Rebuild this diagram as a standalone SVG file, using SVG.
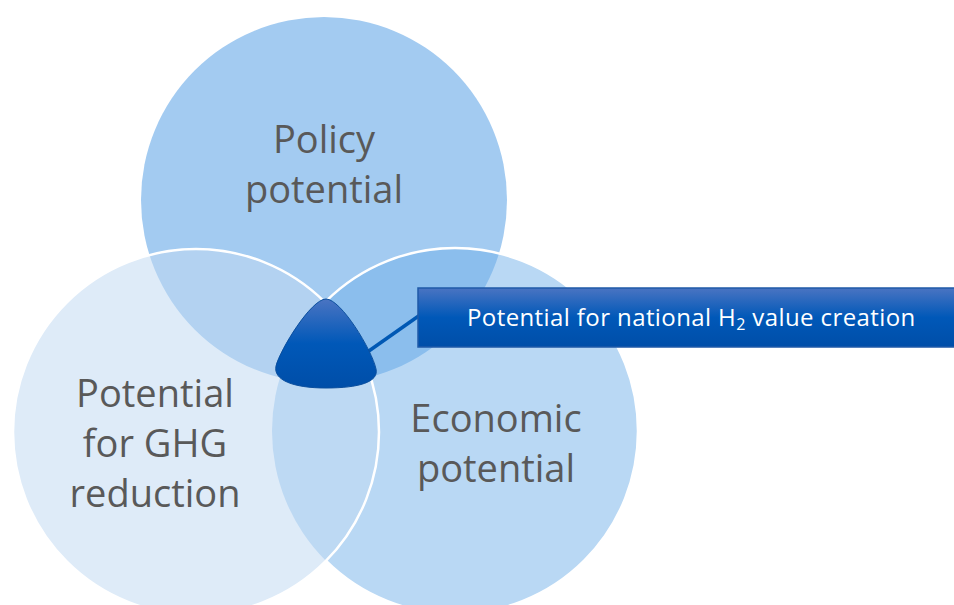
<svg xmlns="http://www.w3.org/2000/svg" width="954" height="605" viewBox="0 0 954 605">
  <defs>
    <style>
      .label { font-family: "Open Sans", "Noto Sans", "Liberation Sans", sans-serif; font-size: 38px; fill: #595959; text-anchor: middle; }
      .callout-text { font-family: "Open Sans", "Noto Sans", "Liberation Sans", sans-serif; font-size: 24px; letter-spacing: 0.4px; fill: #ffffff; }
      .ring { fill: none; stroke: #ffffff; stroke-width: 2.5; }
    </style>
    <linearGradient id="blueGrad" x1="0" y1="0" x2="0" y2="1">
      <stop offset="0" stop-color="#4a74c2"/>
      <stop offset="0.5" stop-color="#0058b8"/>
      <stop offset="1" stop-color="#004ea8"/>
    </linearGradient>
    <!-- hides the economic ring's outline where the GHG circle lies over it -->
    <mask id="outsideGhg">
      <rect x="0" y="0" width="954" height="605" fill="#fff"/>
      <circle cx="196" cy="432" r="183" fill="#000"/>
    </mask>
  </defs>

  <rect x="0" y="0" width="954" height="605" fill="#ffffff"/>

  <!-- circle fills -->
  <g id="policy">
    <circle cx="324" cy="200" r="183" fill="#a3cbf1"/>
  </g>
  <g id="economic">
    <circle cx="455" cy="431" r="183" fill="rgb(115,177,233)" fill-opacity="0.5"/>
  </g>
  <g id="ghg">
    <circle cx="196" cy="432" r="183" fill="rgb(193,218,242)" fill-opacity="0.53"/>
  </g>

  <!-- white outlines -->
  <g id="outlines">
    <circle class="ring" cx="455" cy="431" r="183" mask="url(#outsideGhg)"/>
    <circle class="ring" cx="196" cy="432" r="183"/>
  </g>

  <!-- circle labels -->
  <g id="policy-label">
    <text class="label" x="324" y="153">Policy</text>
    <text class="label" x="324" y="203">potential</text>
  </g>
  <g id="ghg-label">
    <text class="label" x="155" y="407">Potential</text>
    <text class="label" x="155" y="457">for GHG</text>
    <text class="label" x="155" y="507">reduction</text>
  </g>
  <g id="economic-label">
    <text class="label" x="496" y="432">Economic</text>
    <text class="label" x="496" y="482">potential</text>
  </g>

  <!-- connector -->
  <g id="connectors">
    <line x1="366" y1="353" x2="420" y2="315" stroke="#0058b4" stroke-width="3.5"/>
  </g>

  <!-- central intersection marker -->
  <g id="intersection">
    <path d="M 326 299 C 311 299 280 350 276 366 C 273 380 293 388 326 388 C 359 388 379 382 376 369 C 372 350 341 299 326 299 Z"
          fill="url(#blueGrad)" stroke="#0b4f9e" stroke-width="1"/>
  </g>

  <!-- callout box -->
  <g id="callout">
    <rect x="418" y="288" width="540" height="59" fill="url(#blueGrad)" stroke="#1f5aa8" stroke-width="1.5"/>
    <text class="callout-text" x="467" y="326">Potential for national H<tspan font-size="16" dy="4">2</tspan><tspan dy="-4"> value creation</tspan></text>
  </g>
</svg>
